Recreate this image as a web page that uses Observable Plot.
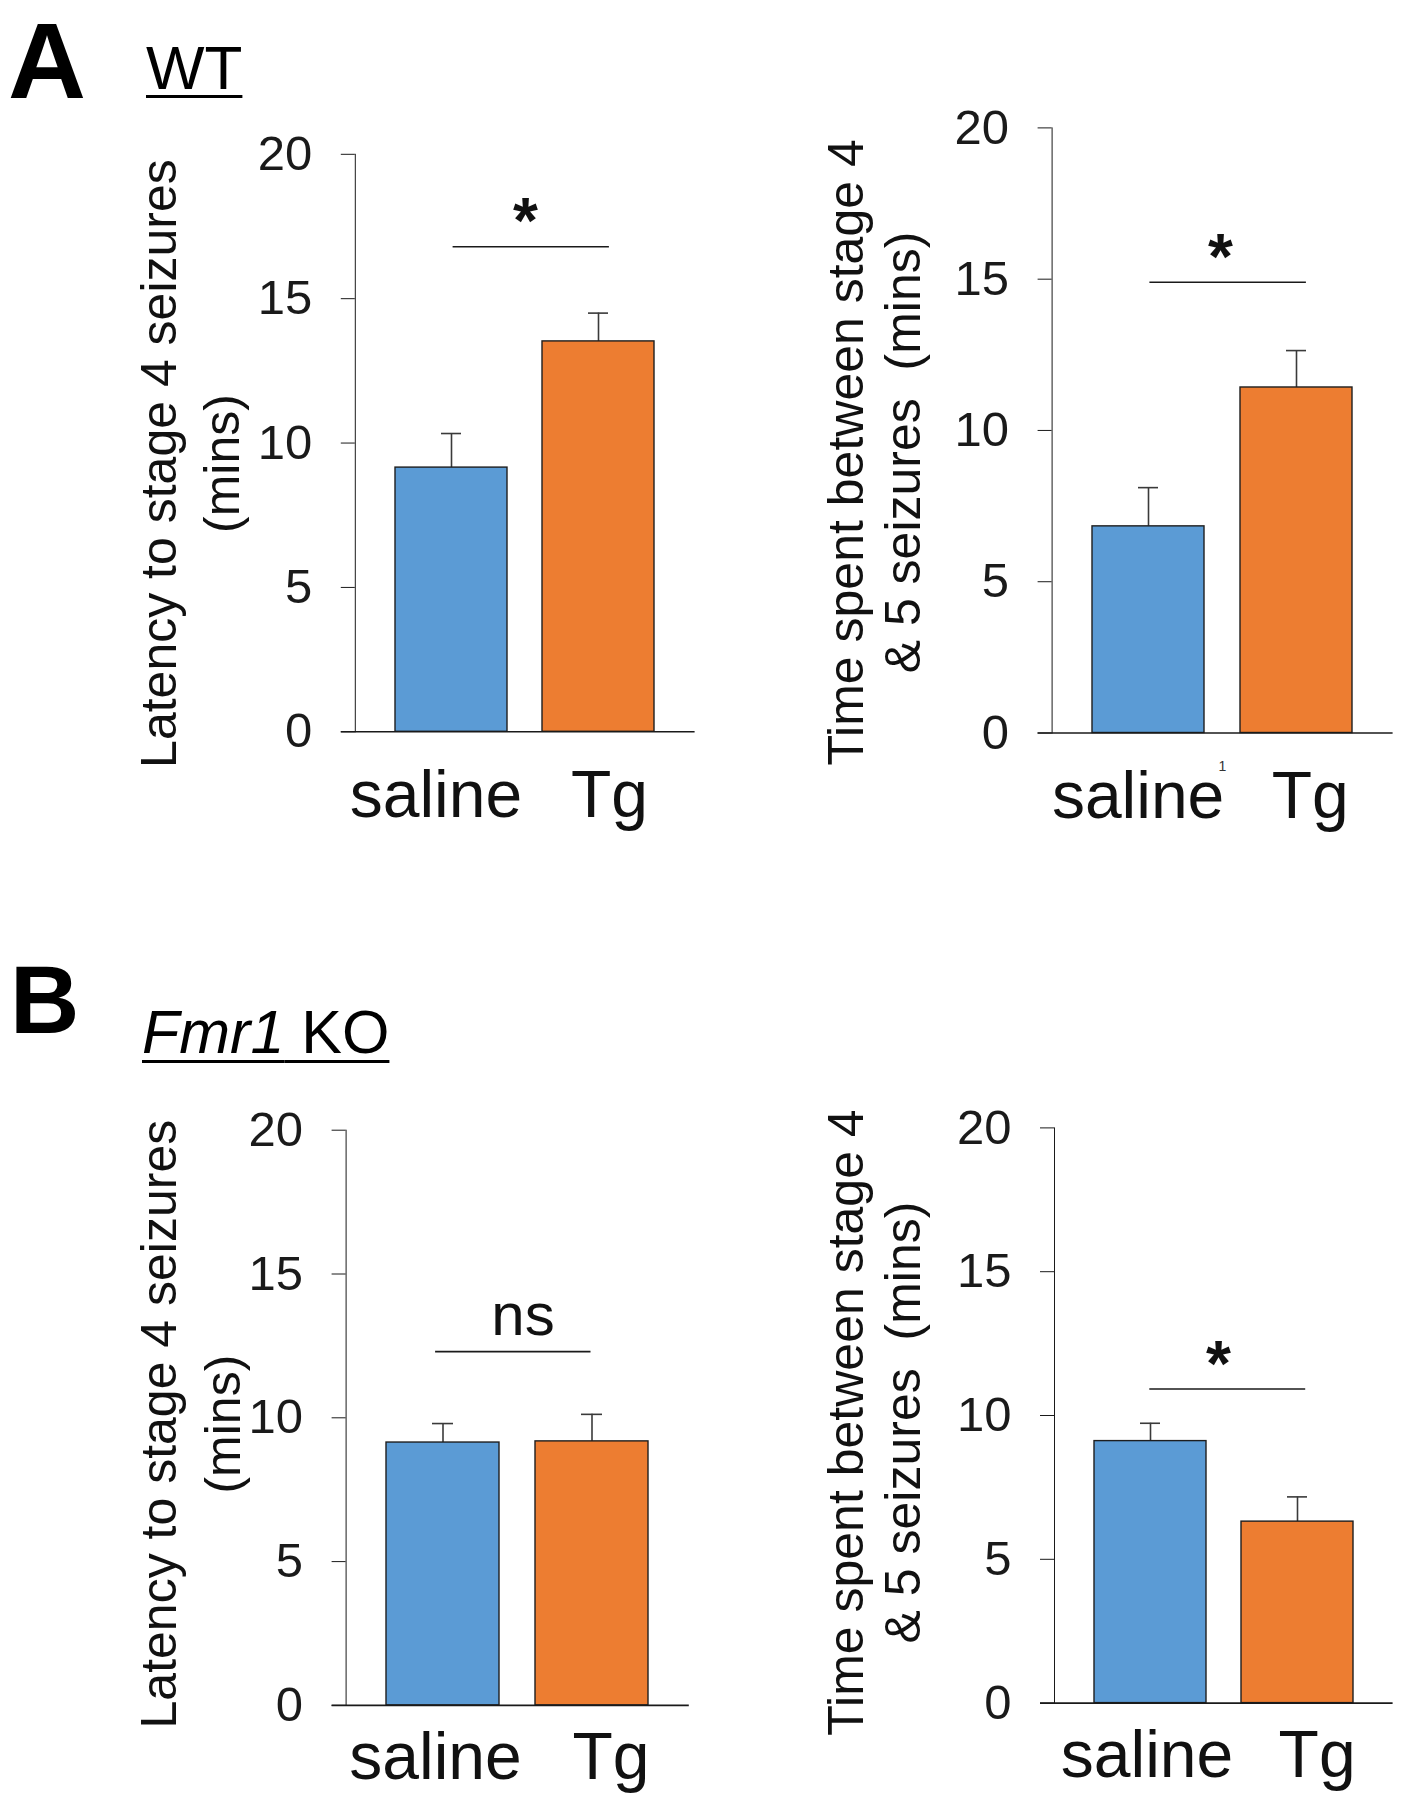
<!DOCTYPE html>
<html>
<head>
<meta charset="utf-8">
<script src="https://cdn.jsdelivr.net/npm/d3@7"></script>
<script src="https://cdn.jsdelivr.net/npm/@observablehq/plot@0.6"></script>
<style>
  body { margin: 0; background: #fff; }
  #fig { position: relative; width: 1403px; height: 1800px; overflow: hidden;
         font-family: "Liberation Sans", Arial, sans-serif; color: #000; background: #fff; }
  .panel { position: absolute; }
  .head { position: absolute; line-height: 1; white-space: pre; }
</style>
</head>
<body>
<div id="fig"></div>
<script>
// ---- data ----
const categories = ["saline", "Tg"];
const wtLatency = [9.15, 13.52];
const wtLatencyErr = [1.18, 0.98];
const wtTime = [6.83, 11.42];
const wtTimeErr = [1.28, 1.22];
const koLatency = [9.14, 9.18];
const koLatencyErr = [0.66, 0.94];
const koTime = [9.11, 6.31];
const koTimeErr = [0.62, 0.86];
const yTicks = [0, 5, 10, 15, 20];
const sigLabels = ["*", "*", "ns", "*"];
const sigLevels = [16.8, 14.9, 12.3, 10.92];
const latencyLabel = "Latency to stage 4 seizures\n(mins)";
const timeLabel = "Time spent between stage 4\n& 5 seizures\u00a0\u00a0(mins)";
const headings = ["A", "WT", "B", "Fmr1", "KO"];
const footnoteMark = "1";

const FONT = '"Liberation Sans", Arial, sans-serif';
const colors = ["#5B9BD5", "#ED7D31"];
const fig = document.getElementById("fig");

function drawPanel(cfg) {
  const rows = categories.map((c, i) => ({group: c, mean: cfg.means[i], upper: cfg.means[i] + cfg.errs[i]}));
  const marks = [
    Plot.ruleX(rows, {x: "group", y1: "mean", y2: "upper", stroke: "#3a3a3a", strokeWidth: 1.6}),
    Plot.tickY(rows, {x: "group", y: "upper", stroke: "#3a3a3a", strokeWidth: 1.6, insetLeft: 46, insetRight: 46}),
    Plot.barY(rows, {x: "group", y: "mean", fill: "group", stroke: "#1e1e1e", strokeWidth: 1.4}),
    Plot.ruleY([0], {stroke: "#1a1a1a", strokeWidth: 1.6, insetLeft: -14}),
    Plot.ruleY([cfg.sig], {x1: () => categories[0], x2: () => categories[1], y: d => d,
                           insetLeft: cfg.sigInset[0], insetRight: cfg.sigInset[1],
                           stroke: "#1a1a1a", strokeWidth: 1.6}),
    Plot.text([cfg.sigLabel], {x: () => categories[0], y: () => cfg.sig, text: d => d,
                               dx: cfg.sigDx, dy: cfg.sigDy, fontSize: cfg.sigSize,
                               fontWeight: cfg.sigBold ? "bold" : "normal", fill: "#111"}),
    Plot.text([categories[0]], {x: d => d, y: () => 0, text: d => d, dx: cfg.xlabDx[0], dy: cfg.xlabDy,
                                fontSize: 66, fill: "#111"}),
    Plot.text([categories[1]], {x: d => d, y: () => 0, text: d => d, dx: cfg.xlabDx[1], dy: cfg.xlabDy,
                                fontSize: 66, fill: "#111"}),
    Plot.text([cfg.label], {frameAnchor: "left", textAnchor: "middle", lineAnchor: "middle",
                            text: d => d, rotate: -90, dx: cfg.labDx, dy: cfg.labDy,
                            lineHeight: cfg.labLH, fontSize: 50, fill: "#111"})
  ];
  if (cfg.extra) {
    marks.push(Plot.text([cfg.extra], {x: () => categories[0], y: () => 0, text: d => d,
                                       dx: 74, dy: 34, fontSize: 14, fill: "#333"}));
  }
  const svg = Plot.plot({
    width: cfg.w, height: cfg.h,
    marginTop: cfg.mt, marginRight: cfg.mr, marginBottom: cfg.mb, marginLeft: cfg.ml,
    style: {fontFamily: FONT, fontSize: "49px", color: "#1a1a1a", background: "transparent", overflow: "visible"},
    x: {domain: categories, paddingInner: 0.24, paddingOuter: 0.27, axis: null},
    y: {domain: [0, 20], ticks: yTicks, tickSize: 14, tickPadding: 29, line: true, label: null,
        tickFormat: d => String(d)},
    color: {domain: categories, range: colors},
    marks
  });
  svg.classList.add("panel");
  svg.style.left = cfg.left + "px";
  svg.style.top = cfg.top + "px";
  fig.appendChild(svg);
}

drawPanel({means: wtLatency, errs: wtLatencyErr, sig: sigLevels[0], sigLabel: sigLabels[0], label: latencyLabel,
  left: 0, top: 100, w: 700, h: 760, ml: 354.8, mt: 53.8, mb: 128.7, mr: 5.4,
  labDx: -168.3, labDy: 20.5, labLH: 1.26, xlabDx: [-15.6, 11], xlabDy: 64,
  sigInset: [57.6, 45.1], sigDx: 74, sigDy: -24, sigSize: 64, sigBold: true});
drawPanel({means: wtTime, errs: wtTimeErr, sig: sigLevels[1], sigLabel: sigLabels[1], label: timeLabel,
  left: 700, top: 80, w: 703, h: 780, ml: 351.6, mt: 47.4, mb: 127.5, mr: 10.4,
  labDx: -179.1, labDy: 22, labLH: 1.14, xlabDx: [-10.4, 13.8], xlabDy: 64,
  sigInset: [57.4, 46.1], sigDx: 72, sigDy: -24, sigSize: 64, sigBold: true, extra: footnoteMark});
drawPanel({means: koLatency, errs: koLatencyErr, sig: sigLevels[2], sigLabel: sigLabels[2], label: latencyLabel,
  left: 0, top: 1060, w: 700, h: 740, ml: 345.6, mt: 69.7, mb: 95.1, mr: 11.2,
  labDx: -158.6, labDy: 6.3, labLH: 1.28, xlabDx: [-7.5, 19], xlabDy: 52,
  sigInset: [49.1, 57.5], sigDx: 80, sigDy: -36, sigSize: 60, sigBold: false});
drawPanel({means: koTime, errs: koTimeErr, sig: sigLevels[3], sigLabel: sigLabels[3], label: timeLabel,
  left: 700, top: 1060, w: 703, h: 740, ml: 354, mt: 67.4, mb: 97.4, mr: 10.4,
  labDx: -181.5, labDy: 7, labLH: 1.14, xlabDx: [-3.5, 19.6], xlabDy: 53,
  sigInset: [55.3, 47.8], sigDx: 68, sigDy: -24, sigSize: 64, sigBold: true});

function head(html, left, top, size, extra) {
  const d = document.createElement("div");
  d.className = "head";
  d.style.left = left + "px";
  d.style.top = top + "px";
  d.style.fontSize = size + "px";
  Object.assign(d.style, extra || {});
  d.innerHTML = html;
  fig.appendChild(d);
}
head(headings[0], 8, 6.5, 108, {fontWeight: "bold"});
head(headings[1], 146, 37, 62, {textDecoration: "underline", textDecorationThickness: "3px", textUnderlineOffset: "6px"});
head(headings[2], 10, 952, 96, {fontWeight: "bold"});
head("<i>" + headings[3] + "</i> " + headings[4], 142, 1002, 61,
     {textDecoration: "underline", textDecorationThickness: "3px", textUnderlineOffset: "7px"});
</script>
</body>
</html>
